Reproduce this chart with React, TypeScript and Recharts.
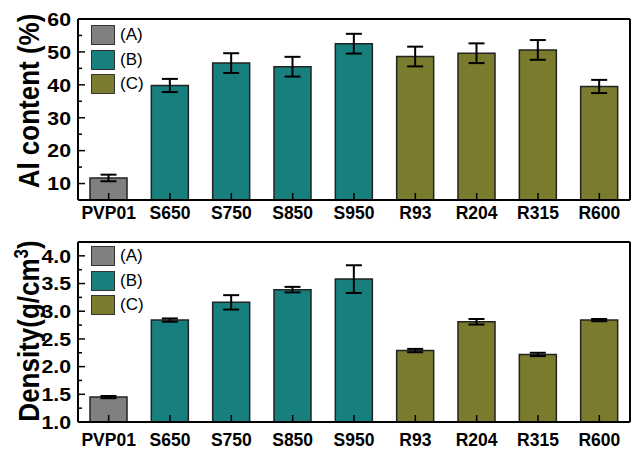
import React from "react";
import { BarChart, Bar, XAxis, YAxis, ErrorBar, Cell, Legend } from "recharts";

const categories = ["PVP01", "S650", "S750", "S850", "S950", "R93", "R204", "R315", "R600"];
const groups = ["A", "B", "B", "B", "B", "C", "C", "C", "C"];
const alContent = [11.7, 39.8, 46.6, 45.5, 52.5, 48.6, 49.6, 50.6, 39.5];
const alError = [1, 2, 3, 3, 3, 3, 3, 3, 2];
const density = [1.45, 2.84, 3.16, 3.39, 3.58, 2.29, 2.81, 2.22, 2.84];
const densityError = [0.02, 0.03, 0.13, 0.05, 0.25, 0.03, 0.05, 0.03, 0.02];
const alTicks = [10, 20, 30, 40, 50, 60];
const alMinorTicks = [15, 25, 35, 45, 55];
const densityTicks = [1.0, 1.5, 2.0, 2.5, 3.0, 3.5, 4.0];
const densityMinorTicks = [1.25, 1.75, 2.25, 2.75, 3.25, 3.75];
const legendKeys = ["A", "B", "C"];
const legendLabels = ["(A)", "(B)", "(C)"];

const FONT = "Arial, 'Liberation Sans', Helvetica, sans-serif";
const groupColors: Record<string, string> = { A: "#808080", B: "#17807f", C: "#7b7b2e" };
const axisLine = { stroke: "#000", strokeWidth: 2 };

function LegendBox() {
  return (
    <div style={{ fontFamily: FONT }}>
      {legendKeys.map((k, i) => (
        <div key={k} style={{ display: "flex", alignItems: "center", height: 24.5 }}>
          <div
            style={{
              width: 22,
              height: 18,
              background: groupColors[k],
              border: "1px solid #333",
            }}
          />
          <span style={{ fontSize: 17, marginLeft: 5, color: "#000" }}>{legendLabels[i]}</span>
        </div>
      ))}
    </div>
  );
}

interface PanelProps {
  values: number[];
  errors: number[];
  domain: [number, number];
  ticks: number[];
  minorTicks: number[];
  digits: number;
  title: React.ReactNode;
  height: number;
  top: number;
  bottom: number;
  labelGap: number;
  legendTop: number;
  titleY: number;
}

function Panel(p: PanelProps) {
  const data = categories.map((name, i) => ({
    name,
    value: p.values[i],
    err: p.errors[i],
    group: groups[i],
  }));
  const allTicks = [...p.ticks, ...p.minorTicks].sort((a, b) => a - b);

  const YTick = (props: any) => {
    const { x, y, payload } = props;
    const major = p.ticks.includes(payload.value);
    return (
      <g>
        <line x1={x} x2={x + (major ? 7 : 4)} y1={y} y2={y} stroke="#000" strokeWidth={1.5} />
        {major && (
          <text
            transform={`translate(${x - 7} ${y}) scale(1.12 1)`}
            dy="0.36em"
            textAnchor="end"
            fontSize={19}
            fontWeight="bold"
            fontFamily={FONT}
            fill="#000"
          >
            {payload.value.toFixed(p.digits)}
          </text>
        )}
      </g>
    );
  };

  const XTick = (props: any) => {
    const { x, y, payload } = props;
    return (
      <g>
        <line x1={x} x2={x} y1={y} y2={y - 7} stroke="#000" strokeWidth={1.5} />
        <text
          x={x}
          y={y + p.labelGap}
          dy="0.71em"
          textAnchor="middle"
          fontSize={17.5}
          fontWeight="bold"
          fontFamily={FONT}
          fill="#000"
        >
          {payload.value}
        </text>
      </g>
    );
  };

  return (
    <BarChart
      width={641}
      height={p.height}
      data={data}
      margin={{ top: p.top, right: 10, bottom: 0, left: 0 }}
      barSize={37}
    >
      <Bar dataKey="value" stroke="#222" strokeWidth={1.5} isAnimationActive={false}>
        {data.map((d) => (
          <Cell key={d.name} fill={groupColors[d.group]} />
        ))}
        <ErrorBar dataKey="err" width={8} stroke="#000" strokeWidth={2} direction="y" />
      </Bar>
      <XAxis
        dataKey="name"
        height={p.bottom}
        interval={0}
        tickLine={false}
        tickSize={0}
        tickMargin={0}
        axisLine={axisLine}
        tick={<XTick />}
      />
      <XAxis
        xAxisId="top"
        orientation="top"
        dataKey="name"
        height={1}
        tick={false}
        tickLine={false}
        axisLine={axisLine}
      />
      <YAxis
        domain={p.domain}
        ticks={allTicks}
        interval={0}
        width={78}
        tickLine={false}
        tickSize={0}
        tickMargin={0}
        axisLine={axisLine}
        tick={<YTick />}
        label={{
          content: () => (
            <text
              transform={`translate(39 ${p.titleY}) rotate(-90) scale(1 1.15)`}
              textAnchor="middle"
              fontSize={26}
              fontWeight="bold"
              fontFamily={FONT}
              fill="#000"
            >
              {p.title}
            </text>
          ),
        }}
      />
      <YAxis
        yAxisId="right"
        orientation="right"
        domain={p.domain}
        width={1}
        tick={false}
        tickLine={false}
        axisLine={axisLine}
      />
      <Legend
        layout="vertical"
        align="center"
        verticalAlign="middle"
        wrapperStyle={{ top: p.legendTop, left: 91, width: 80 }}
        content={() => <LegendBox />}
      />
    </BarChart>
  );
}

export default function App() {
  return (
    <div
      style={{
        position: "absolute",
        left: 0,
        top: 0,
        width: 641,
        height: 455,
        background: "#fff",
        fontFamily: FONT,
      }}
    >
      <Panel
        values={alContent}
        errors={alError}
        domain={[5, 60]}
        ticks={alTicks}
        minorTicks={alMinorTicks}
        digits={0}
        title="Al content (%)"
        height={228}
        top={18}
        bottom={28}
        labelGap={7}
        legendTop={23}
        titleY={101}
      />
      <Panel
        values={density}
        errors={densityError}
        domain={[1, 4.25]}
        ticks={densityTicks}
        minorTicks={densityMinorTicks}
        digits={1}
        title={
          <>
            Density(g/cm
            <tspan dy={-10} fontSize={17}>
              3
            </tspan>
            <tspan dy={10}>)</tspan>
          </>
        }
        height={227}
        top={13}
        bottom={33}
        labelGap={12}
        legendTop={16}
        titleY={103}
      />
    </div>
  );
}
